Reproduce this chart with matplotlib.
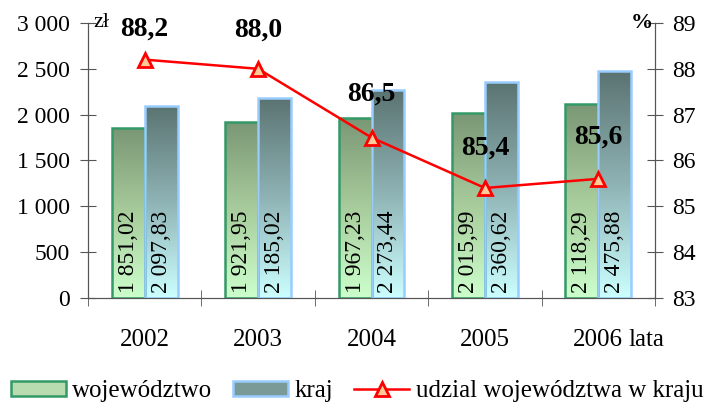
import numpy as np
import matplotlib.pyplot as plt
from matplotlib.colors import LinearSegmentedColormap
from matplotlib.lines import Line2D
from matplotlib.patches import Patch

plt.rcParams['font.family'] = ['Liberation Serif', 'DejaVu Serif']

years = ['2002', '2003', '2004', '2005', '2006']
wojewodztwo = [1851.02, 1921.95, 1967.23, 2015.99, 2118.29]
kraj = [2097.83, 2185.02, 2273.44, 2360.62, 2475.88]
udzial = [88.2, 88.0, 86.5, 85.4, 85.6]

# vertical offsets (points) of the percentage labels
label_dy = [22, 28, 31, 29, 30]

def fmt(v, dec=2):
    s = f"{v:,.{dec}f}"
    return s.replace(',', ' ').replace('.', ',')

green_cmap = LinearSegmentedColormap.from_list('g', ['#ccffcc', '#a8cc9c', '#7a9775'])
blue_cmap = LinearSegmentedColormap.from_list('b', ['#ccffff', '#8fb3b5', '#5a7371'])

fig = plt.figure(figsize=(7.07, 4.03), dpi=100)
ax = fig.add_axes([0.1245, 0.2605, 0.802, 0.6825])
x = np.arange(len(years))
w = 0.29

b1 = ax.bar(x - w/2, wojewodztwo, w, facecolor='none', edgecolor='#339966', linewidth=1.8, zorder=3)
b2 = ax.bar(x + w/2, kraj, w, facecolor='none', edgecolor='#99ccff', linewidth=1.8, zorder=3)

grad = np.linspace(0, 1, 256).reshape(-1, 1)
for bars, cmap in [(b1, green_cmap), (b2, blue_cmap)]:
    for r in bars:
        x0, y0 = r.get_x(), r.get_y()
        im = ax.imshow(grad, cmap=cmap, origin='lower', aspect='auto',
                       extent=[x0, x0 + r.get_width(), y0, y0 + r.get_height()], zorder=2)
        im.set_clip_path(r)

for i in range(len(years)):
    ax.text(x[i] - w/2, 60, fmt(wojewodztwo[i]), rotation=90, ha='center', va='bottom',
            fontsize=17, zorder=4)
    ax.text(x[i] + w/2, 60, fmt(kraj[i]), rotation=90, ha='center', va='bottom',
            fontsize=17, zorder=4)

ax.set_xlim(-0.5, len(years) - 0.5)
ax.set_ylim(0, 3000)
ax.set_yticks(np.arange(0, 3001, 500))
ax.set_yticklabels([fmt(v, 0) for v in np.arange(0, 3001, 500)])
ax.set_xticks(x)
ax.set_xticklabels(years)
ax.set_xticks(np.arange(-0.5, len(years), 1), minor=True)
ax.tick_params(axis='x', which='major', length=0, pad=22, labelsize=18)
ax.tick_params(axis='x', which='minor', direction='inout', length=12, color='#555555')
ax.tick_params(axis='y', direction='inout', length=12, labelsize=17, color='#555555', pad=7)
ax.spines['top'].set_visible(False)
for s in ['left', 'bottom', 'right']:
    ax.spines[s].set_color('#555555')

ax2 = ax.twinx()
ax2.set_ylim(83, 89)
ax2.set_yticks(np.arange(83, 90, 1))
ax2.tick_params(axis='y', direction='inout', length=12, labelsize=17, color='#555555', pad=6)
ax2.spines['top'].set_visible(False)
for s in ['left', 'bottom', 'right']:
    ax2.spines[s].set_color('#555555')
ax2.plot(x, udzial, color='red', linewidth=1.8, marker='^', markersize=10,
         markerfacecolor='#ffcc99', markeredgecolor='red', markeredgewidth=2, zorder=5)
for i, v in enumerate(udzial):
    ax2.annotate(fmt(v, 1), (x[i], v), xytext=(0, label_dy[i]), textcoords='offset points',
                 ha='center', va='center', fontsize=20, fontweight='bold')

ax.text(0.01, 1.0, 'zł', transform=ax.transAxes, ha='left', va='center', fontsize=16)
ax2.text(0.997, 1.0, '%', transform=ax2.transAxes, ha='right', va='center', fontsize=16, fontweight='bold')
ax.annotate('lata', (4.27, 0), xycoords=('data', 'axes fraction'), xytext=(0, -22),
            textcoords='offset points', ha='left', va='top', fontsize=18, annotation_clip=False)

handles = [Patch(facecolor='#b8dcb0', edgecolor='#339966', linewidth=1.8),
           Patch(facecolor='#7a9a98', edgecolor='#99ccff', linewidth=1.8),
           Line2D([0], [0], color='red', linewidth=1.8, marker='^', markersize=10,
                  markerfacecolor='#ffcc99', markeredgecolor='red', markeredgewidth=2)]
fig.legend(handles, ['województwo', 'kraj', 'udzial województwa w kraju'],
           loc='center', bbox_to_anchor=(0.505, 0.03), ncol=3, frameon=False,
           fontsize=18, handlelength=2.2, handleheight=0.55, handletextpad=0.25,
           columnspacing=0.85, borderpad=0, borderaxespad=0)

fig.savefig('out.png', dpi=100)
